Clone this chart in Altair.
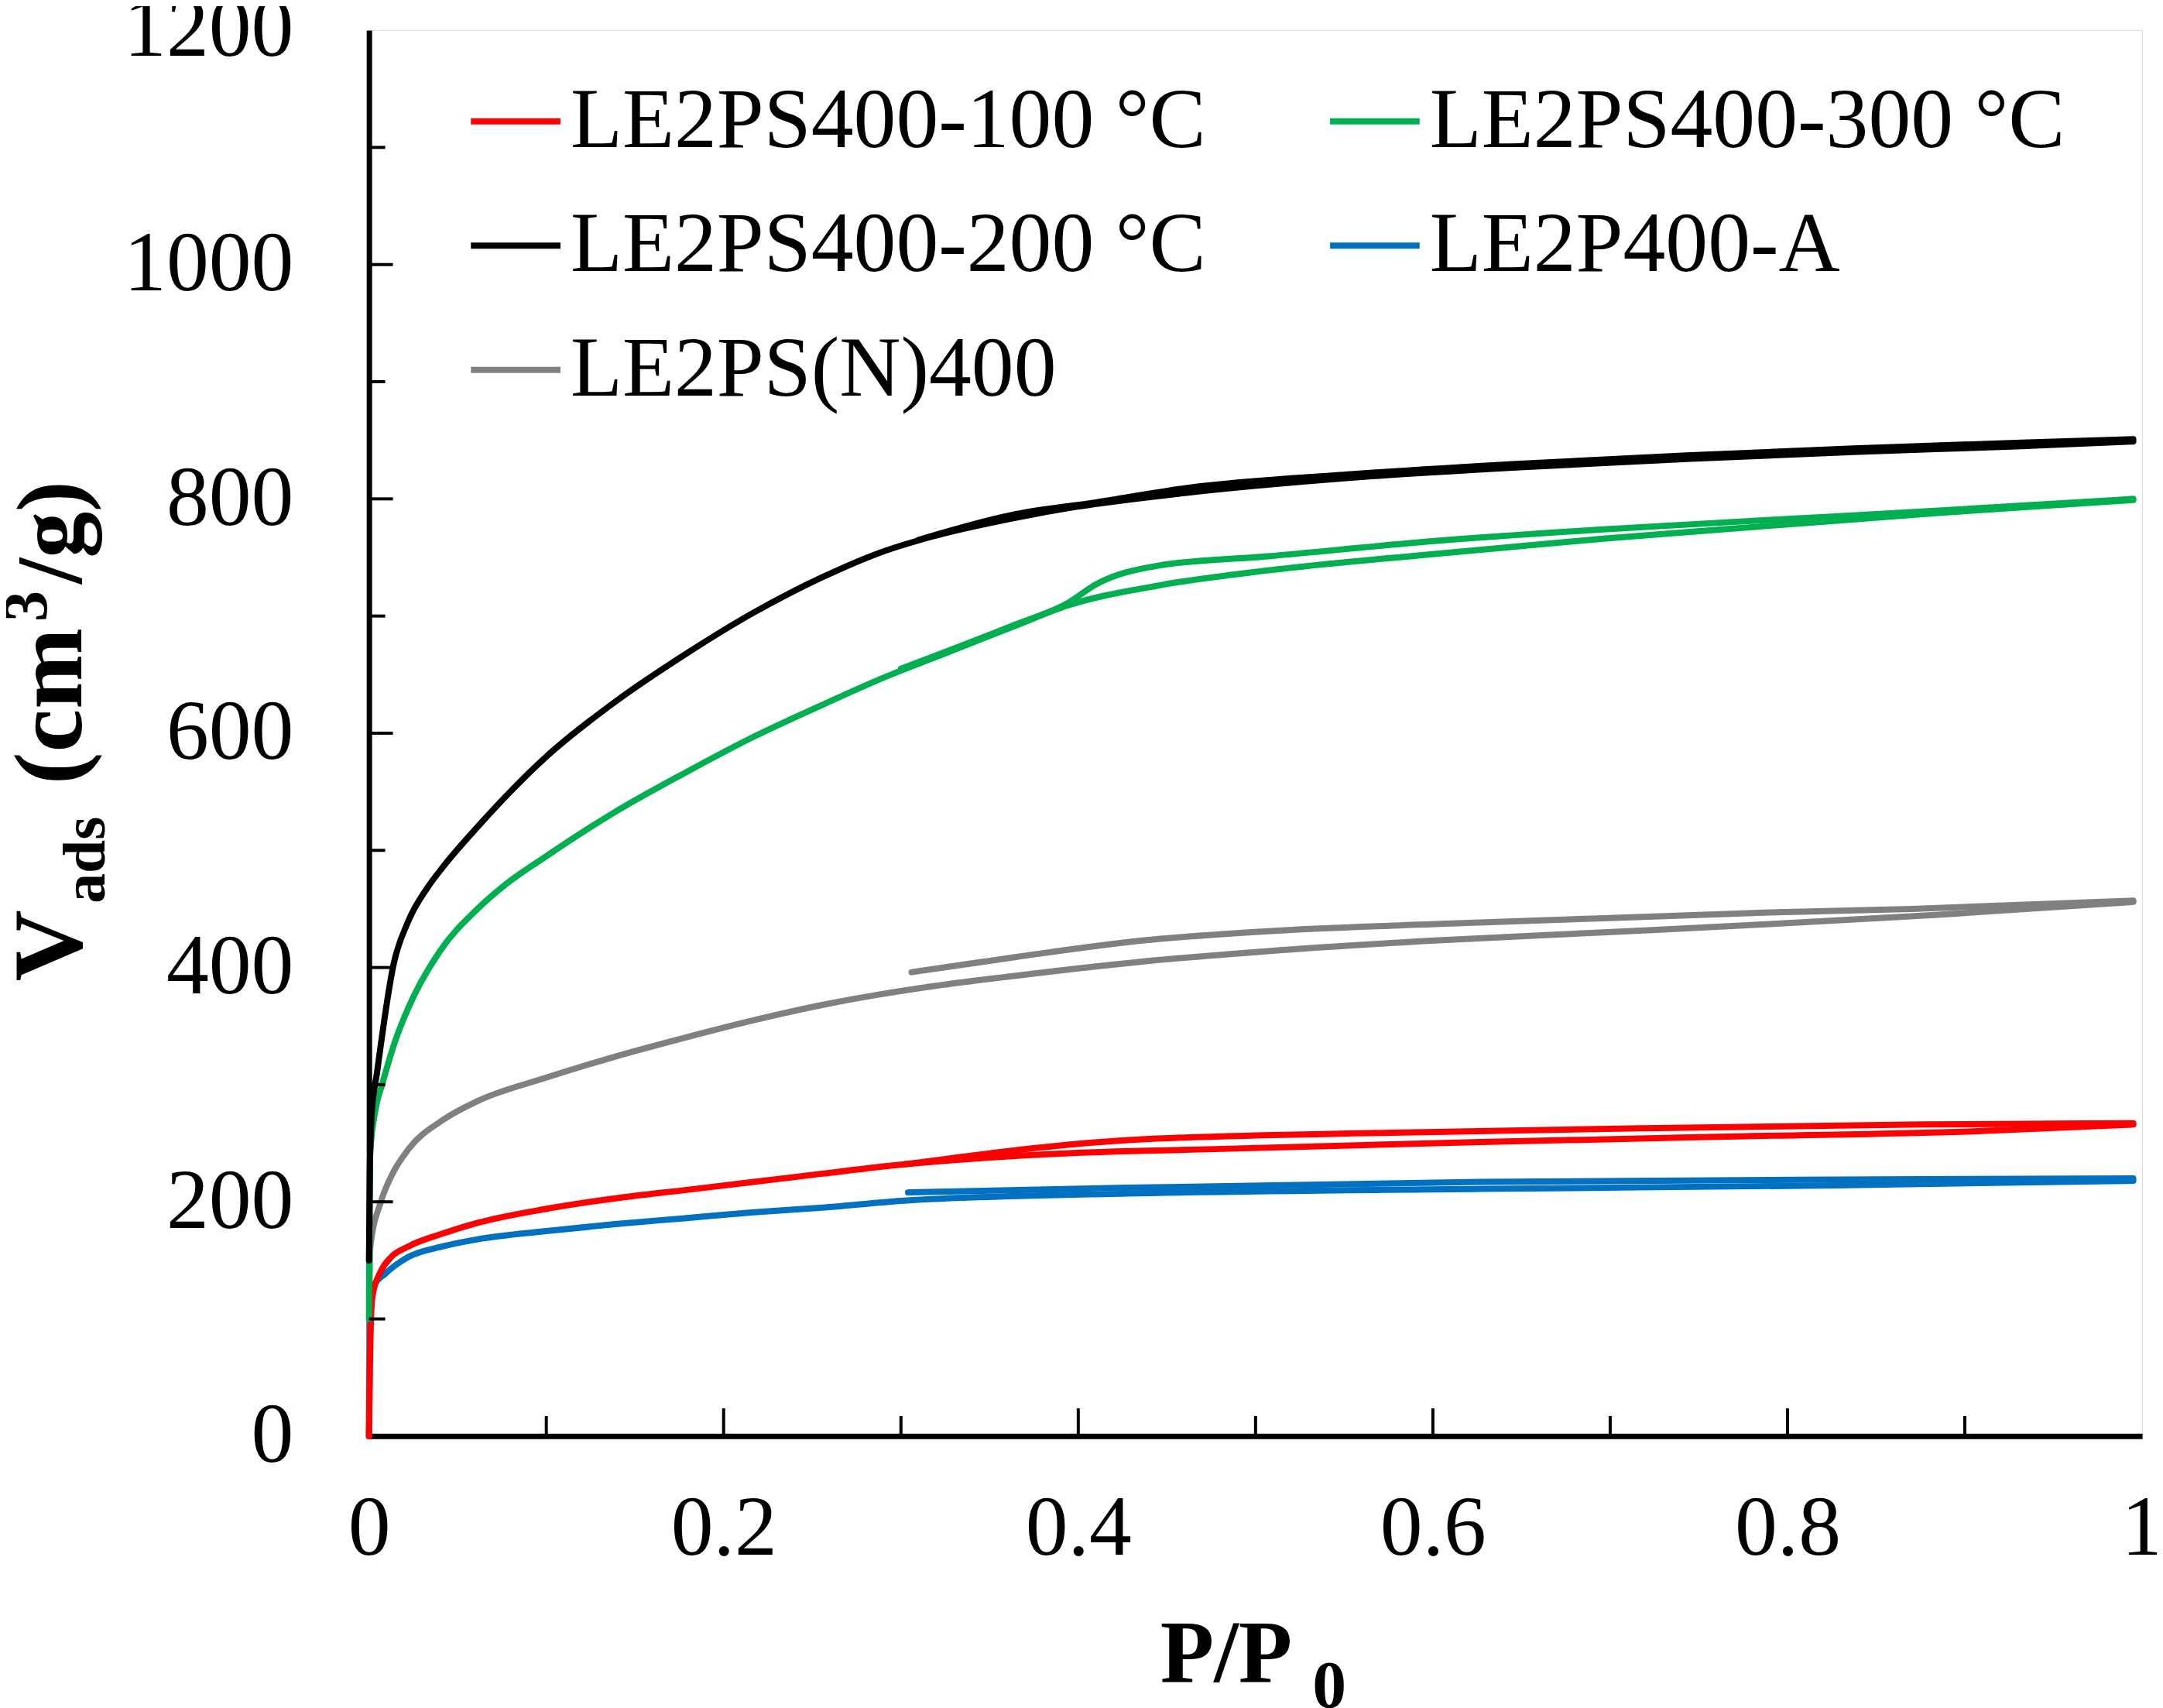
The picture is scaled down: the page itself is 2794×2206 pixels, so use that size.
import altair as alt
import pandas as pd

FONT = "Liberation Serif"

S100 = "LE2PS400-100 °C"
S300 = "LE2PS400-300 °C"
S200 = "LE2PS400-200 °C"
SA = "LE2P400-A"
SN = "LE2PS(N)400"

# legend fills column by column: first column red, black, gray; second column green, blue
series_order = [S100, S200, SN, S300, SA]
series_colors = ["#FF0000", "#000000", "#808080", "#00B050", "#0070C0"]

# LE2PS400-200 °C
p200_ads = [0, 0.0005, 0.0015, 0.0045, 0.0139, 0.0223, 0.0329, 0.0418, 0.0612, 0.1, 0.139, 0.178, 0.217, 0.2555, 0.288, 0.318, 0.365, 0.398, 0.46, 0.554, 0.649, 0.743, 0.837, 0.932, 0.995]
v200_ads = [150, 230, 275, 310, 403, 440, 468, 486, 520, 580, 627, 667, 703, 733, 754, 768, 784, 793, 805, 818, 827, 834, 840, 845, 849]
p200_des = [0.31, 0.365, 0.41, 0.46, 0.554, 0.649, 0.743, 0.837, 0.932, 0.995]
v200_des = [765, 787, 797, 809, 821, 830, 837, 843, 848, 851]

# LE2PS400-300 °C
p300_ads = [0, 0.0006, 0.0037, 0.0074, 0.0154, 0.0223, 0.040, 0.0612, 0.0763, 0.1, 0.139, 0.178, 0.217, 0.2555, 0.288, 0.318, 0.365, 0.394, 0.445, 0.507, 0.601, 0.696, 0.79, 0.885, 0.995]
v300_ads = [100, 240, 279, 300, 340, 366, 414, 450, 470, 495, 533, 566, 597, 624, 646, 664, 692, 709, 726, 739, 753, 766, 777, 788, 799]
p300_des = [0.3, 0.365, 0.394, 0.41, 0.445, 0.507, 0.601, 0.696, 0.79, 0.885, 0.995]
v300_des = [655, 693, 711, 727, 743, 751, 764, 774, 782, 790, 800]

# LE2PS(N)400
pN_ads = [0, 0.0002, 0.0006, 0.0067, 0.0126, 0.0223, 0.0418, 0.0612, 0.1, 0.139, 0.178, 0.217, 0.2555, 0.288, 0.318, 0.365, 0.436, 0.507, 0.601, 0.696, 0.79, 0.885, 0.995]
vN_ads = [0, 100, 160, 200, 222, 245, 270, 286, 306, 324, 340, 355, 368, 377, 384, 393, 405, 414, 423, 430, 437, 445, 456]
pN_des = [0.306, 0.365, 0.436, 0.507, 0.601, 0.696, 0.79, 0.87, 0.995]
vN_des = [396, 409, 423, 431, 437, 442, 447, 450, 457]

# LE2PS400-100 °C
p100_ads = [0, 0.0005, 0.001, 0.002, 0.0068, 0.0126, 0.0223, 0.0418, 0.0612, 0.1, 0.139, 0.178, 0.217, 0.2555, 0.302, 0.387, 0.477, 0.627, 0.777, 0.902, 0.995]
v100_ads = [0, 60, 95, 120, 141, 153, 162, 173, 182, 194, 203, 210, 217, 224, 232, 241, 245, 251, 256, 260, 266]
p100_des = [0.302, 0.432, 0.577, 0.727, 0.877, 0.995]
v100_des = [232, 253, 259, 263, 266, 267]

# LE2P400-A
pA_ads = [0, 0.0005, 0.001, 0.003, 0.0087, 0.0223, 0.0418, 0.0612, 0.1, 0.139, 0.178, 0.217, 0.2555, 0.302, 0.427, 0.627, 0.827, 0.995]
vA_ads = [0, 80, 110, 129, 138, 153, 162, 168, 175, 181, 186, 191, 195, 201, 207, 211, 214, 218]
pA_des = [0.304, 0.427, 0.627, 0.827, 0.995]
vA_des = [208, 212, 217, 219, 220]

x_label_values = [0, 0.2, 0.4, 0.6, 0.8, 1]
y_label_values = [0, 200, 400, 600, 800, 1000, 1200]
x_major_ticks = [0.2, 0.4, 0.6, 0.8]
x_minor_ticks = [0.1, 0.3, 0.5, 0.7, 0.9]
y_major_ticks = [200, 400, 600, 800, 1000]
y_minor_ticks = [100, 300, 500, 700, 900, 1100]

rows = []
def add(name, branch, ps, vs):
    for i, (p, v) in enumerate(zip(ps, vs)):
        rows.append({"series": name, "branch": name + branch, "p": p, "v": v, "i": i})

add(SN, "a", pN_ads, vN_ads)
add(SN, "d", pN_des, vN_des)
add(SA, "a", pA_ads, vA_ads)
add(SA, "d", pA_des, vA_des)
add(S100, "a", p100_ads, v100_ads)
add(S100, "d", p100_des, v100_des)
add(S300, "a", p300_ads, v300_ads)
add(S300, "d", p300_des, v300_des)
add(S200, "a", p200_ads, v200_ads)
add(S200, "d", p200_des, v200_des)
df = pd.DataFrame(rows)

W, H = 2297, 1821

xs = alt.Scale(domain=[0, 1], nice=False)
ys = alt.Scale(domain=[0, 1200], nice=False)

lines = alt.Chart(df).mark_line(strokeWidth=8, strokeCap="round", strokeJoin="round",
                                interpolate="monotone").encode(
    x=alt.X("p:Q", scale=xs, axis=alt.Axis(values=x_label_values, format="~g", title=None, ticks=False,
                                           grid=False, labelFont=FONT, labelFontSize=110, labelColor="black",
                                           labelPadding=66, domainColor="black", domainWidth=7,
                                           labelFlush=False, labelLimit=0)),
    y=alt.Y("v:Q", scale=ys, axis=alt.Axis(values=y_label_values, format="d", title=None, ticks=False,
                                           grid=False, labelFont=FONT, labelFontSize=110, labelColor="black",
                                           labelPadding=98, domainColor="black", domainWidth=7,
                                           labelFlush=False, labelLimit=0)),
    color=alt.Color("series:N", scale=alt.Scale(domain=series_order, range=series_colors),
                    legend=alt.Legend(orient="none", legendX=128, legendY=56, columns=2, title=None,
                                      symbolType="stroke", symbolSize=13456, symbolStrokeWidth=8,
                                      labelFont=FONT, labelFontSize=110, labelColor="black",
                                      labelOffset=9, columnPadding=144, rowPadding=44, labelLimit=0,
                                      padding=0)),
    detail="branch:N",
    order="i:Q",
)

def xticks(vals, length):
    return alt.Chart(pd.DataFrame({"p": vals})).mark_rule(color="black", strokeWidth=4).encode(
        x=alt.X("p:Q", scale=xs), y=alt.value(H), y2=alt.value(H - length))

def yticks(vals, length):
    return alt.Chart(pd.DataFrame({"v": vals})).mark_rule(color="black", strokeWidth=4).encode(
        y=alt.Y("v:Q", scale=ys), x=alt.value(0), x2=alt.value(length))

dummy = pd.DataFrame({"a": [0]})

def txt(t, x, y, size, angle=0, bold=True):
    kw = dict(text=t, font=FONT, fontSize=size, align="left", baseline="alphabetic", color="black",
              fontWeight="bold" if bold else "normal")
    if angle:
        kw["angle"] = angle
    return alt.Chart(dummy).mark_text(**kw).encode(x=alt.value(x), y=alt.value(y))

titles = [
    txt("V", -373, 1232, 128, 270),
    txt("ads", -343, 1131, 78, 270),
    txt("(cm", -373, 977, 126, 270),
    txt("3", -418, 766, 80, 270),
    txt("/g)", -373, 717, 120, 270),
    txt("P/P", 1025, 2139, 114),
    txt("0", 1222, 2172, 88),
]

chart = alt.layer(
    lines,
    xticks(x_major_ticks, 36), xticks(x_minor_ticks, 26),
    yticks(y_major_ticks, 31), yticks(y_minor_ticks, 21),
    *titles,
).properties(
    width=W, height=H,
    autosize=alt.AutoSizeParams(type="none"),
    padding={"left": 470, "top": 28, "right": 19, "bottom": 349},
).configure_view(stroke="black", strokeWidth=5).configure(background="white")

chart.save("out.html", embed_options={"renderer": "svg", "actions": False})
